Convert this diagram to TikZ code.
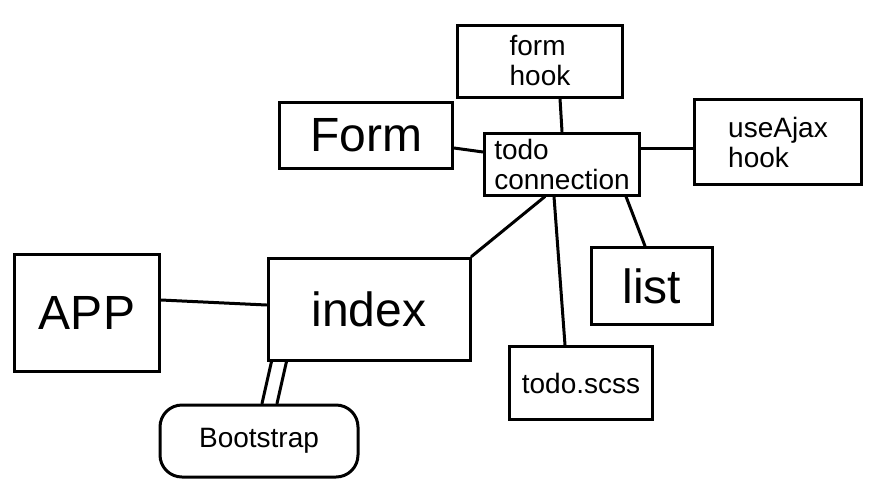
\documentclass[tikz,border=0pt]{standalone}
\usepackage{fontspec}
\setmainfont{Liberation Sans}
\usepackage{tikz}

\begin{document}
\begin{tikzpicture}[x=1pt,y=-1pt]

\tikzset{Box/.style={draw,line width=3pt,inner sep=0pt,align=left},
         Link/.style={line width=3pt,line cap=round},
         Small/.style={font=\fontsize{28}{30}\selectfont},
         Big/.style={font=\fontsize{48}{52}\selectfont}}

\useasboundingbox (0,0) rectangle (886,483);

\node[Box,Small,minimum width=165pt,minimum height=72pt] (formhook) at (540,61) {form\\hook};
\node[Box,Big,minimum width=173pt,minimum height=66pt] (form) at (366,135) {Form};
\node[Box,Small,minimum width=155pt,minimum height=62pt] (todo) at (562,164) {todo\\connection};
\node[Box,Small,minimum width=167pt,minimum height=85pt] (ajax) at (778,142) {useAjax\\hook};
\node[Box,Big,minimum width=145pt,minimum height=117pt] (app) at (87,313) {APP};
\node[Box,Big,minimum width=202pt,minimum height=102pt] (index) at (369,309) {index};
\node[Box,Big,minimum width=121pt,minimum height=77pt] (list) at (652,286) {list};
\node[Box,Small,minimum width=143pt,minimum height=73pt] (scss) at (581,383) {todo.scss};
\node[Box,Small,rounded corners=22pt,minimum width=198pt,minimum height=72pt] (boot) at (259,441) {Bootstrap};

\draw[Link] ([xshift=20pt]formhook.south) -- (todo.north);
\draw[Link] ([yshift=-13pt]form.east) -- ([yshift=12pt]todo.west);
\draw[Link] ([yshift=16pt]todo.east) -- ([yshift=-6pt]ajax.west);
\draw[Link] ([xshift=-17pt]todo.south) -- (index.north east);
\draw[Link] ([xshift=-8pt]todo.south) -- ([xshift=-16pt]scss.north);
\draw[Link] ([xshift=-15pt]todo.south east) -- ([xshift=-7pt]list.north);

\draw[Link] ([yshift=13pt]app.east) -- ([yshift=4pt]index.west);
\draw[Link] ([xshift=5pt]index.south west) -- ([xshift=3pt]boot.north);
\draw[Link] ([xshift=20pt]index.south west) -- ([xshift=18pt]boot.north);

\end{tikzpicture}
\end{document}
